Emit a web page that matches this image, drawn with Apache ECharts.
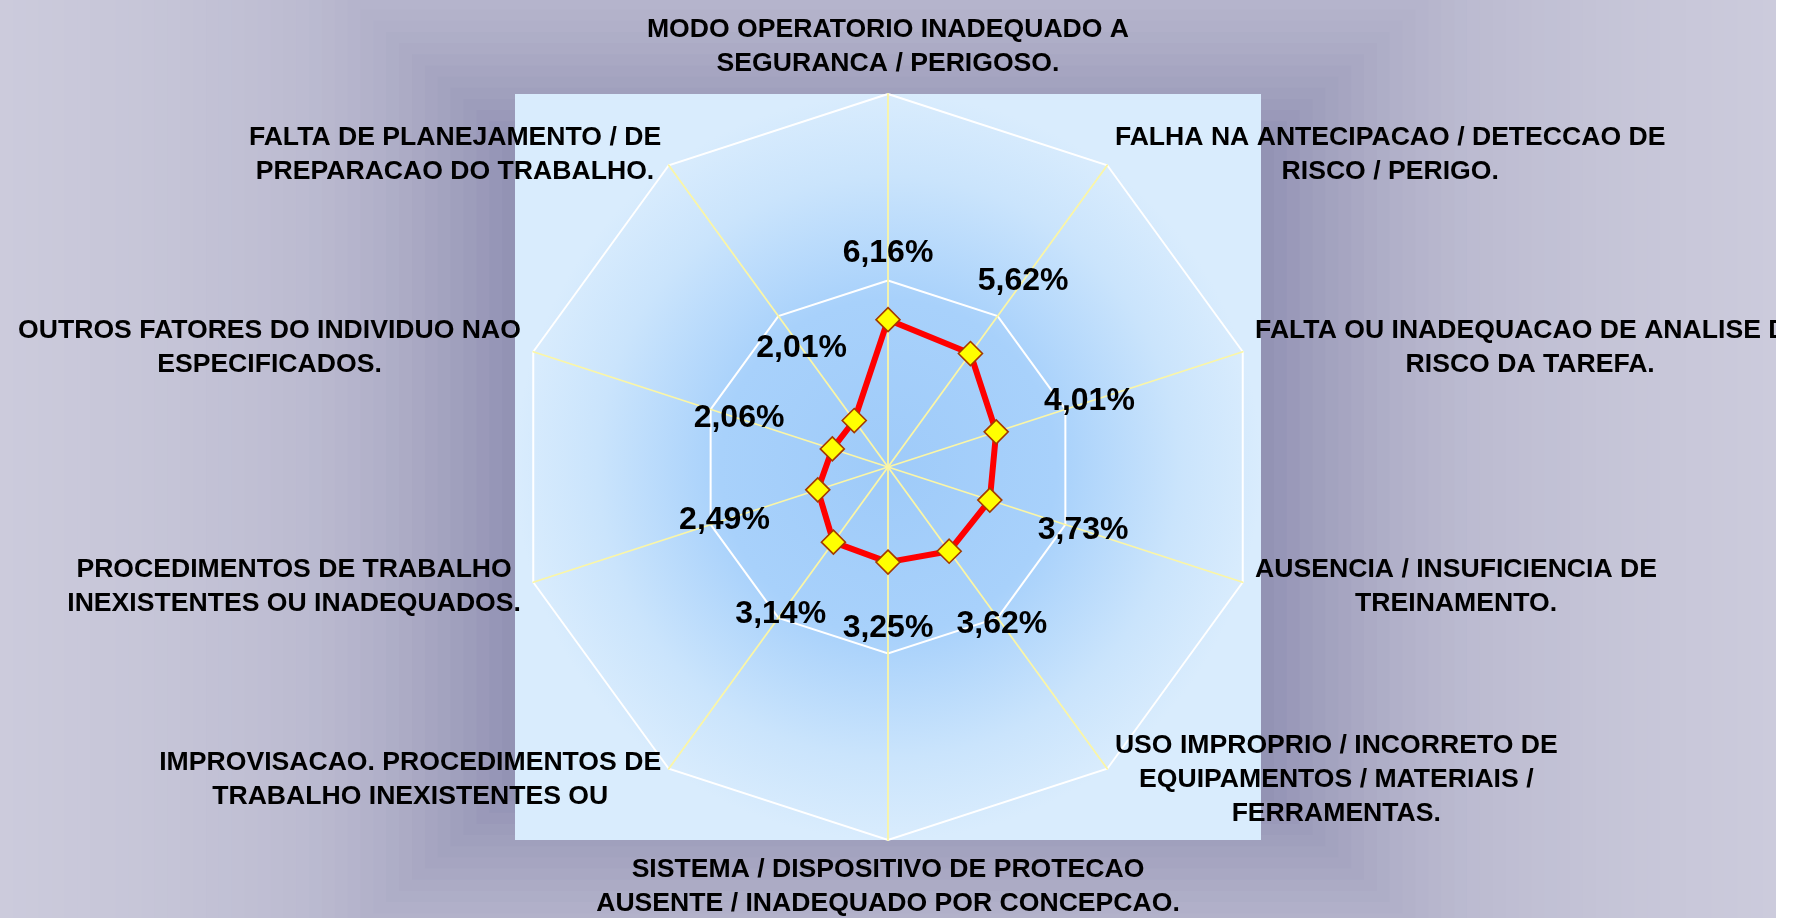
<!DOCTYPE html>
<html>
<head>
<meta charset="utf-8">
<title>Fatores</title>
<script src="https://cdn.jsdelivr.net/npm/echarts@6.0.0/dist/echarts.min.js"></script>
<style>
  html, body { margin: 0; padding: 0; background: #ffffff; }
  #main { width: 1776px; height: 918px; }
</style>
</head>
<body>
<div id="main"></div>
<script>
// categorias em sentido horario, a partir do topo
var categorias = [
  'MODO OPERATORIO INADEQUADO A\nSEGURANCA / PERIGOSO.',
  'FALHA NA ANTECIPACAO / DETECCAO DE\nRISCO / PERIGO.',
  'FALTA OU INADEQUACAO DE ANALISE DE\nRISCO DA TAREFA.',
  'AUSENCIA / INSUFICIENCIA DE\nTREINAMENTO.',
  'USO IMPROPRIO / INCORRETO DE\nEQUIPAMENTOS / MATERIAIS /\nFERRAMENTAS.',
  'SISTEMA / DISPOSITIVO DE PROTECAO\nAUSENTE / INADEQUADO POR CONCEPCAO.',
  'IMPROVISACAO. PROCEDIMENTOS DE\nTRABALHO INEXISTENTES OU',
  'PROCEDIMENTOS DE TRABALHO\nINEXISTENTES OU INADEQUADOS.',
  'OUTROS FATORES DO INDIVIDUO NAO\nESPECIFICADOS.',
  'FALTA DE PLANEJAMENTO / DE\nPREPARACAO DO TRABALHO.'
]
var valores = [39.5, 37.6, 30.5, 28.7, 27.9, 25.5, 24.9, 19.8, 15.7, 15.4]
// rotulos exibidos
var rotulos = ['6,16%', '5,62%', '4,01%', '3,73%', '3,62%', '3,25%', '3,14%', '2,49%', '2,06%', '2,01%']
var eixoMax = 100
var eixoDivisoes = 2

var CX = 888
var CY = 467
var R = 373
var fonte = '"Liberation Sans", Arial, sans-serif'

// echarts desenha o radar no sentido anti-horario: inverte a ordem mantendo o primeiro
var ordem = [0]
for (var i = categorias.length - 1; i > 0; i--) ordem.push(i)
var indicadores = ordem.map(function (i) { return { name: categorias[i], max: eixoMax } })
var serie = ordem.map(function (i) { return valores[i] })

// fundo em degrade retangular (a partir do centro)
function mistura (a, b, f) {
  var r = Math.round(a[0] + (b[0] - a[0]) * f)
  var g = Math.round(a[1] + (b[1] - a[1]) * f)
  var bb = Math.round(a[2] + (b[2] - a[2]) * f)
  return 'rgb(' + r + ',' + g + ',' + bb + ')'
}
var escuro = [144, 144, 178]
var claro = [204, 203, 220]
var curva = [[0, 0], [0.126, 0.27], [0.262, 0.53], [0.417, 0.73], [0.67, 0.88], [1, 1]]
function perfil (s) {
  for (var k = 1; k < curva.length; k++) {
    if (s <= curva[k][0]) {
      var p = curva[k - 1]
      var q = curva[k]
      return p[1] + (q[1] - p[1]) * (s - p[0]) / (q[0] - p[0])
    }
  }
  return 1
}
var fundo = []
var nFaixas = 40
var A = 888
var B = 770
for (var k = 0; k < nFaixas; k++) {
  var t = 1 - k * 0.58 / nFaixas
  var s = (t - 0.42) / 0.58
  fundo.push({
    type: 'rect',
    silent: true,
    shape: { x: CX - A * t, y: CY - B * t, width: 2 * A * t, height: 2 * B * t },
    style: { fill: mistura(escuro, claro, perfil(s)) }
  })
}
// area de plotagem
fundo.push({
  type: 'rect',
  silent: true,
  shape: { x: CX - R, y: CY - R, width: 2 * R, height: 2 * R },
  style: {
    fill: new echarts.graphic.RadialGradient(0.5, 0.5, 0.5, [
      { offset: 0, color: '#9fcbf9' },
      { offset: 0.45, color: '#a8d1fb' },
      { offset: 0.78, color: '#cae4fc' },
      { offset: 1, color: '#d9ecfd' }
    ])
  }
})

var chart = echarts.init(document.getElementById('main'))
chart.setOption({
  animation: false,
  graphic: { elements: fundo },
  radar: {
    center: [CX, CY],
    radius: R,
    startAngle: 90,
    splitNumber: eixoDivisoes,
    shape: 'polygon',
    z: 2,
    nameGap: 13,
    indicator: indicadores,
    axisName: {
      color: '#000',
      formatter: function (name) {
        return name.split('\n').map(function (l) { return '{c|' + l + '}' }).join('\n')
      },
      rich: {
        c: { align: 'center', color: '#000', fontSize: 26.6, fontWeight: 'bold', lineHeight: 34, fontFamily: fonte }
      }
    },
    splitLine: { lineStyle: { color: '#ffffff', width: 2 } },
    splitArea: { show: false },
    axisLine: { lineStyle: { color: '#fbf6a6', width: 1.8 } },
    axisTick: { show: false }
  },
  series: [{
    type: 'radar',
    z: 3,
    symbol: 'diamond',
    symbolSize: 24,
    lineStyle: { color: '#ff0000', width: 6 },
    itemStyle: { color: '#ffff00', borderColor: '#a33a00', borderWidth: 1.6 },
    label: {
      show: true,
      color: '#000',
      fontSize: 32,
      fontWeight: 'bold',
      fontFamily: fonte,
      formatter: function (p) { return rotulos[valores.indexOf(p.value)] }
    },
    labelLayout: function (p) {
      var px = p.rect.x + p.rect.width / 2
      var py = p.rect.y + p.rect.height / 2
      var dx = px - CX
      var dy = py - CY
      var len = Math.sqrt(dx * dx + dy * dy) || 1
      var ux = dx / len
      var uy = dy / len
      var d = 50 + Math.abs(ux) * p.labelRect.width / 2 + Math.abs(uy) * p.labelRect.height / 2
      return { x: px + ux * d, y: py + uy * d, align: 'center', verticalAlign: 'middle' }
    },
    data: [{ value: serie, name: 'Fatores' }]
  }]
})
</script>
</body>
</html>
